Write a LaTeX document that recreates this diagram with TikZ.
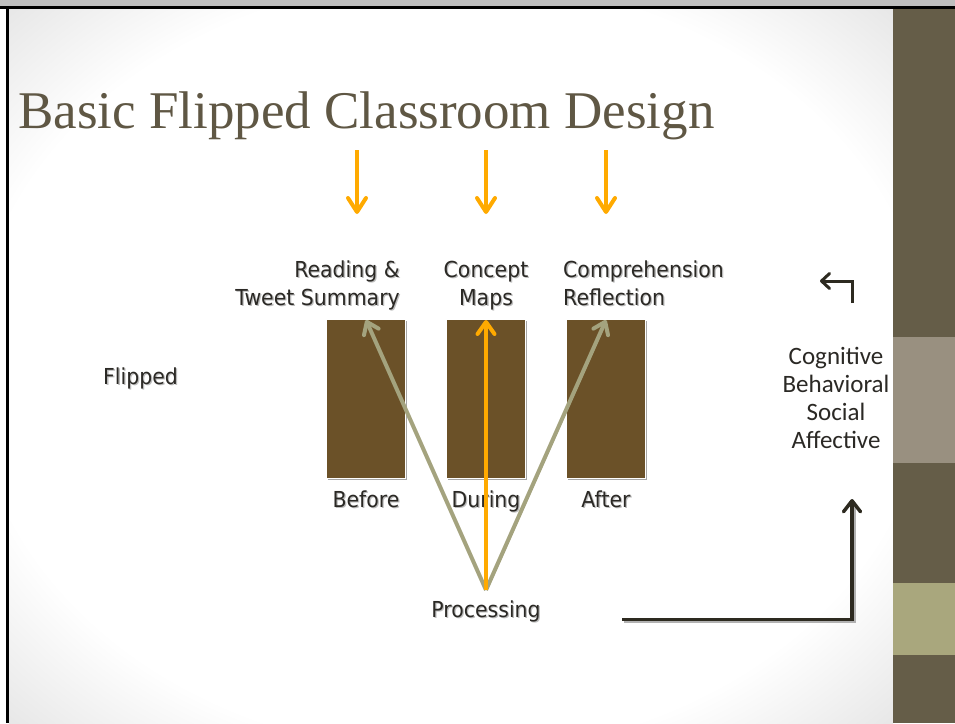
\documentclass[tikz,border=0pt]{standalone}
\usepackage{fontspec}
\setmainfont{DejaVu Sans}
\newfontfamily\titlefont{Liberation Serif}
\newfontfamily\tahfont[FakeStretch=0.93]{DejaVu Sans}
\newfontfamily\calfont{Carlito}
\usetikzlibrary{arrows.meta,shadows}
\definecolor{titlec}{HTML}{5F5744}
\definecolor{bandc}{HTML}{655D48}
\definecolor{bandgray}{HTML}{999080}
\definecolor{bandkhaki}{HTML}{A9A77D}
\definecolor{boxbrown}{HTML}{6B5128}
\definecolor{orangec}{HTML}{FFAA00}
\definecolor{sagec}{HTML}{A4A37E}
\definecolor{darkc}{HTML}{2D2A20}
\definecolor{txtc}{HTML}{2B2925}
\definecolor{shadc}{HTML}{BDBDBD}
\newcommand\shd[1]{\leavevmode\rlap{\kern1.3pt\raisebox{-1.3pt}{\textcolor{shadc}{#1}}}#1}
\pgfdeclareradialshading{vign}{\pgfpoint{0bp}{0bp}}{color(0bp)=(white); color(27bp)=(white); color(36bp)=(black!10); color(50bp)=(black!12)}
\tikzset{
  lbl/.style={inner sep=0pt, text=txtc, font=\tahfont\fontsize{22}{28.5}\selectfont},
  cogn/.style={inner sep=0pt, text=txtc, font=\calfont\fontsize{25}{28}\selectfont},
  stagebox/.style={draw=white, line width=1pt, fill=boxbrown, minimum width=79pt, minimum height=159pt, inner sep=0pt,
    drop shadow={shadow xshift=1.5pt, shadow yshift=-1.5pt, opacity=0.35, fill=black}},
  orangedown/.style={orangec, line width=4pt, -{Straight Barb[length=14pt,width=18pt,round]}},
  sagearrow/.style={sagec, line width=4pt, -{Straight Barb[length=11pt,width=16pt,round]}},
  orangeup/.style={orangec, line width=4pt, -{Straight Barb[length=12pt,width=17pt,round]}},
  darkarrow/.style={darkc, line width=3.5pt, -{Straight Barb[length=11pt,width=17pt,round]}},
  smallarrow/.style={darkc, line width=3pt, -{Straight Barb[length=8pt,width=15pt,round]}}
}
\begin{document}
\begin{tikzpicture}[x=1pt,y=-1pt]
\useasboundingbox (0,0) rectangle (955,723);
% frame and background
\fill[black!25] (0,0) rectangle (955,6);
\fill[white] (0,9) rectangle (6,723);
\shade[shading=vign] (9,9) rectangle (893,723);
\fill[black] (0,6) rectangle (955,9);
\fill[black] (6,9) rectangle (9,723);
% right band
\fill[bandc] (893,9) rectangle (955,337);
\fill[bandgray] (893,337) rectangle (955,463);
\fill[bandc] (893,463) rectangle (955,583);
\fill[bandkhaki] (893,583) rectangle (955,655);
\fill[bandc] (893,655) rectangle (955,723);
% title
\node[anchor=base west, inner sep=0pt, text=titlec, font=\titlefont\fontsize{53}{60}\selectfont] (title) at (18,128) {Basic Flipped Classroom Design};
% orange down arrows
\coordinate (d1s) at (357,150); \coordinate (d1e) at (357,214);
\coordinate (d2s) at (486,150); \coordinate (d2e) at (486,214);
\coordinate (d3s) at (606,150); \coordinate (d3e) at (606,214);
\draw[orangedown] (d1s) -- (d1e);
\draw[orangedown] (d2s) -- (d2e);
\draw[orangedown] (d3s) -- (d3e);
% top labels (base = last line)
\node[lbl, anchor=base east, align=right] (l1) at (400,305.5) {\shd{Reading \&}\\\shd{Tweet Summary}};
\node[lbl, anchor=base, align=center] (l2) at (486,305.5) {\shd{Concept}\\\shd{Maps}};
\node[lbl, anchor=base west, align=left] (l3) at (563,305.5) {\shd{Comprehension}\\\shd{Reflection}};
% boxes
\node[stagebox] (b1) at (366,398.5) {};
\node[stagebox] (b2) at (486,398.5) {};
\node[stagebox] (b3) at (606,398.5) {};
% bottom labels
\node[lbl, anchor=base] (before) at (366,507) {\shd{Before}};
\node[lbl, anchor=base] (during) at (486,507) {\shd{During}};
\node[lbl, anchor=base] (after) at (606,507) {\shd{After}};
\node[lbl, anchor=base] (proc) at (486,617.5) {\shd{Processing}};
\node[lbl, anchor=base west] (flipped) at (103,384) {\shd{Flipped}};
% processing arrows
\coordinate (src) at (486,590);
\draw[sagearrow] (src) -- ([yshift=-1.5pt]b1.north);
\draw[sagearrow] (src) -- ([yshift=-1.5pt]b3.north);
\draw[orangeup] (src) -- ([yshift=-1.5pt]b2.north);
% right side
\node[cogn, anchor=base, align=center] (cog) at (836,448) {Cognitive\\Behavioral\\Social\\Affective};
\coordinate (s1) at (852,303); \coordinate (s2) at (852,281); \coordinate (s3) at (820,281);
\draw[smallarrow] (s1) -- (s2) -- (s3);
\coordinate (a1) at (622,619.5); \coordinate (a2) at (852,619.5); \coordinate (a3) at (852,499);
\draw[black!30, line width=3.5pt] ([shift={(2,2)}]a1) -- ([shift={(2,2)}]a2) -- ([shift={(2,8)}]a3);
\draw[darkarrow] (a1) -- (a2) -- (a3);
\end{tikzpicture}
\end{document}
